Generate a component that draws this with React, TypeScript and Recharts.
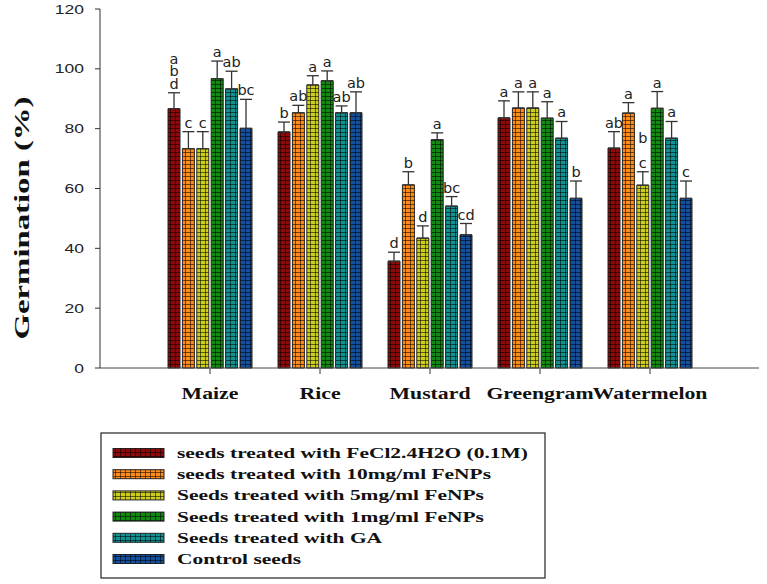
import React from "react";
import { BarChart, Bar, XAxis, YAxis, ErrorBar, LabelList } from "recharts";

// categories and axis ticks
const crops = ["Maize", "Rice", "Mustard", "Greengram", "Watermelon"];
const yTicks = [0, 20, 40, 60, 80, 100, 120];

const seriesNames = [
  "seeds treated with FeCl2.4H2O (0.1M)",
  "seeds treated with 10mg/ml FeNPs",
  "Seeds treated with 5mg/ml FeNPs",
  "Seeds treated with 1mg/ml FeNPs",
  "Seeds treated with GA",
  "Control seeds",
];
const seriesColors = ["#8c0a0a", "#ff8c1a", "#cdcd1e", "#128a12", "#129292", "#14509e"];

// germination % per crop, with upper error and significance letters ("|" = new line)
const fecl2Values = [86.7, 78.9, 35.7, 83.6, 73.5];
const fecl2Errors = [5.3, 3.3, 3.0, 5.7, 5.5];
const fecl2Letters = ["a|b|d", "b", "d", "a", "ab"];

const np10Values = [73.3, 85.3, 61.2, 86.9, 85.2];
const np10Errors = [5.7, 2.5, 4.4, 5.4, 3.5];
const np10Letters = ["c", "ab", "b", "a", "a"];

const np5Values = [73.3, 94.6, 43.4, 86.9, 61.1];
const np5Errors = [5.7, 3.1, 4.1, 5.4, 4.5];
const np5Letters = ["c", "a", "d", "a", "b||c"];

const np1Values = [96.7, 96.0, 76.3, 83.5, 86.8];
const np1Errors = [5.9, 3.3, 2.3, 5.5, 5.6];
const np1Letters = ["a", "a", "a", "a", "a"];

const gaValues = [93.3, 85.3, 54.1, 76.8, 76.8];
const gaErrors = [5.9, 2.3, 3.2, 5.6, 5.6];
const gaLetters = ["ab", "ab", "bc", "a", "a"];

const controlValues = [80.1, 85.3, 44.5, 56.7, 56.7];
const controlErrors = [9.7, 7.0, 3.8, 5.8, 5.8];
const controlLetters = ["bc", "ab", "cd", "b", "c"];

const allValues = [fecl2Values, np10Values, np5Values, np1Values, gaValues, controlValues];
const allErrors = [fecl2Errors, np10Errors, np5Errors, np1Errors, gaErrors, controlErrors];
const allLetters = [fecl2Letters, np10Letters, np5Letters, np1Letters, gaLetters, controlLetters];

const chartData = crops.map((name, i) => {
  const row: any = { name };
  allValues.forEach((vals, s) => {
    row[`v${s}`] = vals[i];
    row[`e${s}`] = [0, allErrors[s][i]];
    row[`t${s}`] = allLetters[s][i];
  });
  return row;
});

const gridPattern = (id: string, color: string) => (
  <pattern key={id} id={id} patternUnits="userSpaceOnUse" width={5} height={4}>
    <rect width={5} height={4} fill={color} />
    <path d="M0 0.5H5M0.5 0V4" stroke="rgba(0,0,0,0.55)" strokeWidth={1} />
  </pattern>
);

const makeLetters = (s: number) => (props: any) => {
  const { x, y, width, height, value, index } = props;
  const v = allValues[s][index];
  const err = allErrors[s][index];
  if (!v) return null;
  const capY = Number(y) - (err * Number(height)) / v;
  const lines = String(value).split("|");
  const cx = Number(x) + Number(width) / 2;
  return (
    <g>
      {lines.map((ln, k) => (
        <text
          key={k}
          x={cx}
          y={capY - 4 - (lines.length - 1 - k) * 12.5}
          textAnchor="middle"
          fontFamily="DejaVu Sans"
          fontSize={14.5}
          fill="#222"
        >
          {ln}
        </text>
      ))}
    </g>
  );
};

const CropTick = (props: any) => {
  const { x, y, payload } = props;
  return (
    <text
      transform={`translate(${x},${y + 22.5}) scale(1.32,1)`}
      textAnchor="middle"
      fontFamily="Liberation Serif"
      fontWeight="bold"
      fontSize={16.5}
      fill="#111"
    >
      {payload.value}
    </text>
  );
};

const PercentTick = (props: any) => {
  const { x, y, payload } = props;
  return (
    <text
      transform={`translate(${x},${y + 4.5}) scale(1.4,1)`}
      textAnchor="end"
      fontFamily="Liberation Sans"
      fontSize={12.5}
      fill="#222"
    >
      {payload.value}
    </text>
  );
};

const renderYLabel = () => (
  <text
    transform="translate(29,218) rotate(-90) scale(1.49,1)"
    textAnchor="middle"
    fontFamily="Liberation Serif"
    fontWeight="bold"
    fontSize={22}
    fill="#111"
  >
    Germination (%)
  </text>
);

export default function App() {
  return (
    <div style={{ position: "absolute", left: 0, top: 0, width: 767, height: 584, background: "#fff" }}>
      <BarChart
        width={767}
        height={584}
        data={chartData}
        margin={{ top: 9, right: 8, left: 40, bottom: 186 }}
        barSize={12}
        barGap={2.4}
      >
        <defs>{seriesColors.map((c, i) => gridPattern(`pat-${i}`, c))}</defs>
        <XAxis
          dataKey="name"
          padding={{ left: 55, right: 54 }}
          height={30}
          tickSize={6}
          tickMargin={2}
          tickLine={{ stroke: "#333" }}
          axisLine={{ stroke: "#444" }}
          tick={<CropTick />}
          interval={0}
        />
        <XAxis
          xAxisId="top"
          orientation="top"
          dataKey="name"
          height={0}
          tick={false}
          tickLine={false}
          axisLine={{ stroke: "#555", strokeWidth: 2 }}
        />
        <YAxis
          domain={[0, 120]}
          ticks={yTicks}
          width={60}
          tickSize={5}
          tickMargin={11}
          tickLine={{ stroke: "#333" }}
          axisLine={{ stroke: "#333" }}
          tick={<PercentTick />}
          label={renderYLabel}
        />
        <YAxis
          yAxisId="right"
          orientation="right"
          domain={[0, 120]}
          width={0}
          tick={false}
          tickLine={false}
          axisLine={{ stroke: "#777" }}
        />
        {seriesNames.map((name, s) => (
          <Bar
            key={name}
            name={name}
            dataKey={`v${s}`}
            fill={`url(#pat-${s})`}
            stroke="#222"
            strokeWidth={1}
            isAnimationActive={false}
          >
            <ErrorBar dataKey={`e${s}`} width={6} stroke="#333" strokeWidth={1.3} direction="y" />
            <LabelList dataKey={`t${s}`} content={makeLetters(s)} />
          </Bar>
        ))}
      </BarChart>

      <svg
        width={767}
        height={584}
        style={{ position: "absolute", left: 0, top: 0, pointerEvents: "none" }}
      >
        <defs>{seriesColors.map((c, i) => gridPattern(`lp-${i}`, c))}</defs>
        <rect x={101} y={433} width={444} height={145} fill="none" stroke="#222" strokeWidth={1.2} />
        {seriesNames.map((name, i) => {
          const cy = 453 + i * 21.2;
          return (
            <g key={name}>
              <rect x={113} y={cy - 4.5} width={51} height={9} fill={`url(#lp-${i})`} stroke="#222" />
              <text
                transform={`translate(177,${cy + 5}) scale(1.43,1)`}
                fontFamily="Liberation Serif"
                fontWeight="bold"
                fontSize={15}
                fill="#111"
              >
                {name}
              </text>
            </g>
          );
        })}
      </svg>
    </div>
  );
}
